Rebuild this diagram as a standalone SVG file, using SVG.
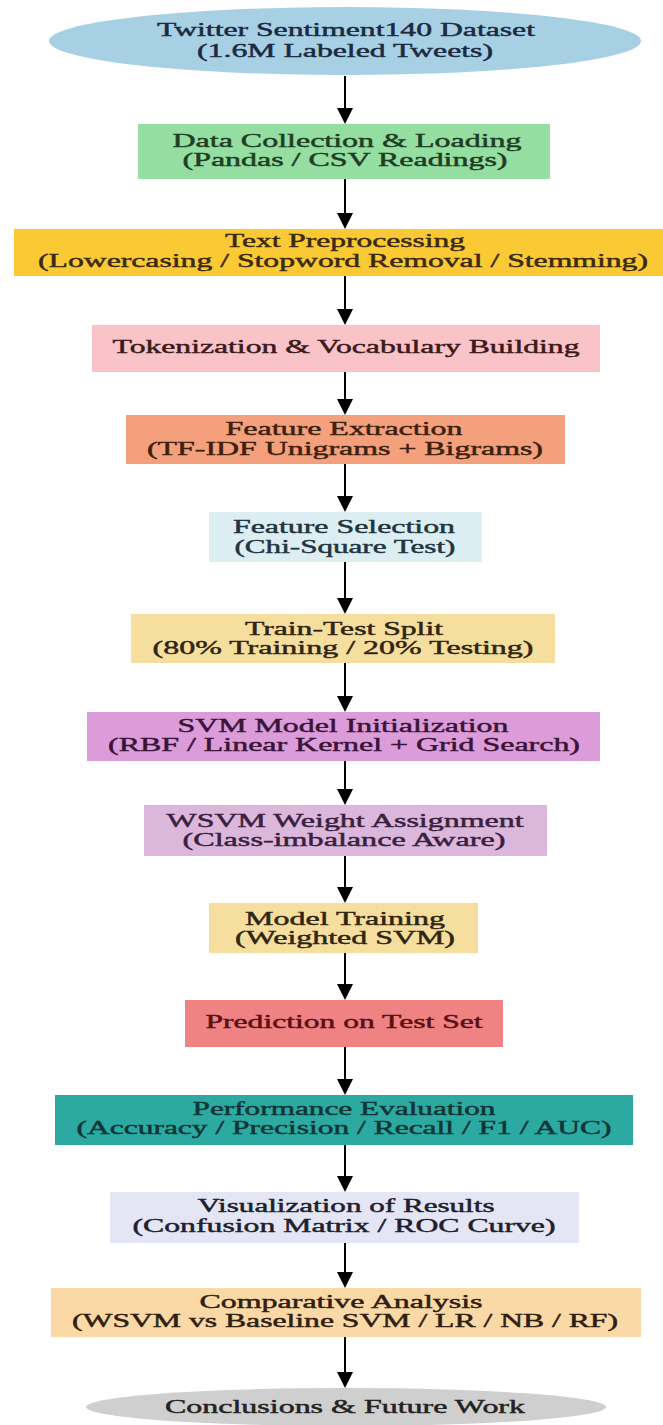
<svg xmlns="http://www.w3.org/2000/svg" width="663" height="1425" viewBox="0 0 663 1425">
<defs>
<marker id="ah" markerUnits="userSpaceOnUse" markerWidth="16" markerHeight="16" viewBox="0 0 16 16" refX="0" refY="8" orient="auto">
<path d="M0,0 L16,8 L0,16 z" fill="#000"/>
</marker>
</defs>
<style>
text{font-family:"Liberation Serif","Times New Roman",serif;font-size:19px;text-anchor:middle;stroke-width:0.45px}
.conn line{stroke:#000;stroke-width:2;marker-end:url(#ah)}
.c1{fill:#1b2a40;stroke:#1b2a40}
.c2{fill:#1f3d24;stroke:#1f3d24}
.c3{fill:#3a2a10;stroke:#3a2a10}
.c4{fill:#3a1a1a;stroke:#3a1a1a}
.c5{fill:#3d1f10;stroke:#3d1f10}
.c6{fill:#1f3540;stroke:#1f3540}
.c7{fill:#2f2510;stroke:#2f2510}
.c8{fill:#3a1438;stroke:#3a1438}
.c9{fill:#3a2040;stroke:#3a2040}
.c11{fill:#5a0f14;stroke:#5a0f14}
.c12{fill:#0f3535;stroke:#0f3535}
.c13{fill:#20202c;stroke:#20202c}
.c14{fill:#2e2010;stroke:#2e2010}
.c15{fill:#222;stroke:#222}
</style>
<rect width="663" height="1425" fill="#fff"/>
<g class="conn">
<line x1="345" y1="76" x2="345" y2="108"/>
<line x1="345" y1="179" x2="345" y2="213"/>
<line x1="345" y1="276" x2="345" y2="309"/>
<line x1="345" y1="372" x2="345" y2="399"/>
<line x1="345" y1="464" x2="345" y2="496"/>
<line x1="345" y1="562" x2="345" y2="598"/>
<line x1="345" y1="663" x2="345" y2="696"/>
<line x1="345" y1="761" x2="345" y2="789"/>
<line x1="345" y1="856" x2="345" y2="887"/>
<line x1="345" y1="953" x2="345" y2="984"/>
<line x1="345" y1="1047" x2="345" y2="1079"/>
<line x1="345" y1="1145" x2="345" y2="1176"/>
<line x1="345" y1="1243" x2="345" y2="1272"/>
<line x1="345" y1="1337" x2="345" y2="1372"/>
</g>
<g id="n1">
<ellipse cx="345" cy="41" rx="296" ry="34" fill="#a8d0e5"/>
<text class="c1" x="346" y="36" textLength="378" lengthAdjust="spacingAndGlyphs">Twitter Sentiment140 Dataset</text>
<text class="c1" x="345" y="57" textLength="296" lengthAdjust="spacingAndGlyphs">(1.6M Labeled Tweets)</text>
</g>
<g id="n2">
<rect x="138" y="124" width="412" height="55" fill="#93dea0"/>
<text class="c2" x="347" y="147" textLength="349" lengthAdjust="spacingAndGlyphs">Data Collection &amp; Loading</text>
<text class="c2" x="345" y="166" textLength="325" lengthAdjust="spacingAndGlyphs">(Pandas / CSV Readings)</text>
</g>
<g id="n3">
<rect x="14" y="229" width="662" height="47" fill="#fbc933"/>
<text class="c3" x="345" y="247" textLength="240" lengthAdjust="spacingAndGlyphs">Text Preprocessing</text>
<text class="c3" x="343" y="267" textLength="610" lengthAdjust="spacingAndGlyphs">(Lowercasing / Stopword Removal / Stemming)</text>
</g>
<g id="n4">
<rect x="92" y="325" width="508" height="47" fill="#f9c3c8"/>
<text class="c4" x="346" y="353" textLength="467" lengthAdjust="spacingAndGlyphs">Tokenization &amp; Vocabulary Building</text>
</g>
<g id="n5">
<rect x="126" y="415" width="439" height="49" fill="#f4a07c"/>
<text class="c5" x="344" y="435" textLength="237" lengthAdjust="spacingAndGlyphs">Feature Extraction</text>
<text class="c5" x="345" y="455" textLength="396" lengthAdjust="spacingAndGlyphs">(TF-IDF Unigrams + Bigrams)</text>
</g>
<g id="n6">
<rect x="209" y="512" width="273" height="50" fill="#ddeef3"/>
<text class="c6" x="344" y="533" textLength="222" lengthAdjust="spacingAndGlyphs">Feature Selection</text>
<text class="c6" x="345" y="553" textLength="221" lengthAdjust="spacingAndGlyphs">(Chi-Square Test)</text>
</g>
<g id="n7">
<rect x="131" y="614" width="424" height="49" fill="#f6df9e"/>
<text class="c7" x="344" y="635" textLength="198" lengthAdjust="spacingAndGlyphs">Train-Test Split</text>
<text class="c7" x="343" y="654" textLength="381" lengthAdjust="spacingAndGlyphs">(80% Training / 20% Testing)</text>
</g>
<g id="n8">
<rect x="87" y="712" width="513" height="49" fill="#dc9cd9"/>
<text class="c8" x="343" y="732" textLength="331" lengthAdjust="spacingAndGlyphs">SVM Model Initialization</text>
<text class="c8" x="344" y="751" textLength="472" lengthAdjust="spacingAndGlyphs">(RBF / Linear Kernel + Grid Search)</text>
</g>
<g id="n9">
<rect x="144" y="805" width="403" height="51" fill="#dbb8db"/>
<text class="c9" x="345" y="827" textLength="357" lengthAdjust="spacingAndGlyphs">WSVM Weight Assignment</text>
<text class="c9" x="344" y="846" textLength="323" lengthAdjust="spacingAndGlyphs">(Class-imbalance Aware)</text>
</g>
<g id="n10">
<rect x="209" y="903" width="269" height="50" fill="#f6df9e"/>
<text class="c7" x="345" y="925" textLength="200" lengthAdjust="spacingAndGlyphs">Model Training</text>
<text class="c7" x="345" y="944" textLength="220" lengthAdjust="spacingAndGlyphs">(Weighted SVM)</text>
</g>
<g id="n11">
<rect x="185" y="1000" width="318" height="47" fill="#ef8282"/>
<text class="c11" x="344" y="1028" textLength="277" lengthAdjust="spacingAndGlyphs">Prediction on Test Set</text>
</g>
<g id="n12">
<rect x="55" y="1095" width="578" height="50" fill="#2ca9a1"/>
<text class="c12" x="344" y="1115" textLength="303" lengthAdjust="spacingAndGlyphs">Performance Evaluation</text>
<text class="c12" x="344" y="1134" textLength="535" lengthAdjust="spacingAndGlyphs">(Accuracy / Precision / Recall / F1 / AUC)</text>
</g>
<g id="n13">
<rect x="110" y="1192" width="469" height="51" fill="#e4e6f6"/>
<text class="c13" x="346" y="1212" textLength="297" lengthAdjust="spacingAndGlyphs">Visualization of Results</text>
<text class="c13" x="344" y="1232" textLength="423" lengthAdjust="spacingAndGlyphs">(Confusion Matrix / ROC Curve)</text>
</g>
<g id="n14">
<rect x="51" y="1288" width="590" height="49" fill="#fbd9a6"/>
<text class="c14" x="341" y="1308" textLength="283" lengthAdjust="spacingAndGlyphs">Comparative Analysis</text>
<text class="c14" x="345" y="1327" textLength="546" lengthAdjust="spacingAndGlyphs">(WSVM vs Baseline SVM / LR / NB / RF)</text>
</g>
<g id="n15">
<ellipse cx="346" cy="1407" rx="260" ry="19" fill="#cfcfcf"/>
<text class="c15" x="345" y="1413" textLength="360" lengthAdjust="spacingAndGlyphs">Conclusions &amp; Future Work</text>
</g>
</svg>
